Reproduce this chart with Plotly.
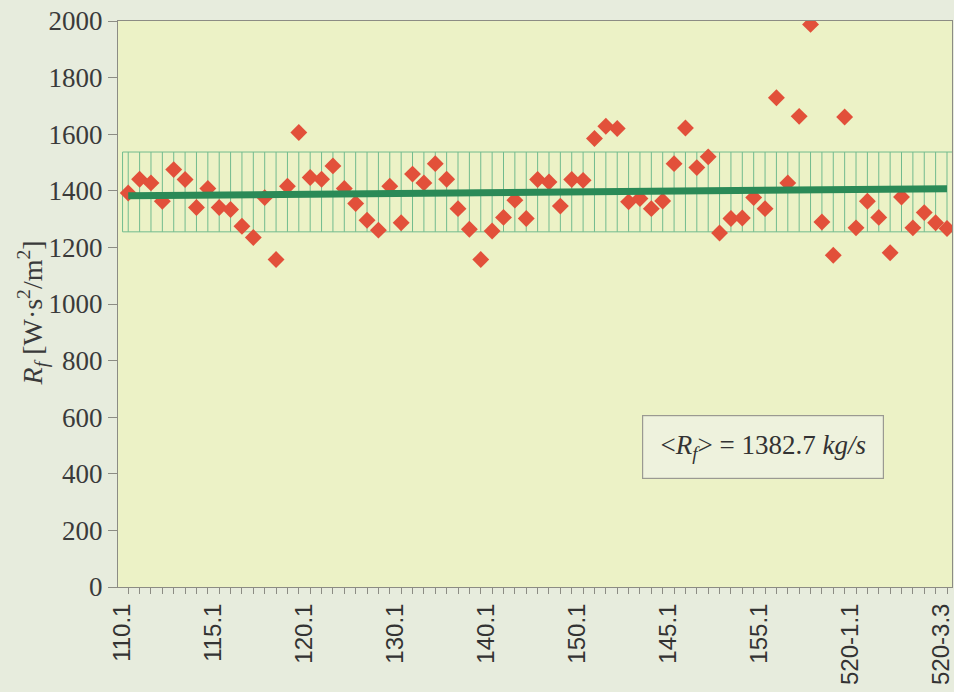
import plotly.graph_objects as go

# Measured friction resistance per sample
sample_index = list(range(73))
rf_values = [1392, 1441, 1428, 1363, 1475, 1440, 1341, 1408, 1341, 1334,
             1275, 1235, 1376, 1157, 1416, 1606, 1447, 1441, 1488, 1408,
             1355, 1296, 1261, 1416, 1287, 1459, 1428, 1496, 1441, 1337,
             1264, 1157, 1258, 1306, 1367, 1302, 1440, 1431, 1346, 1440,
             1437, 1585, 1628, 1620, 1361, 1373, 1337, 1364, 1496, 1622,
             1482, 1520, 1251, 1302, 1304, 1376, 1337, 1729, 1428, 1663,
             1988, 1290, 1172, 1661, 1269, 1363, 1306, 1181, 1378, 1269,
             1323, 1287, 1267]

# Category tick labels (every 8th sample)
tick_positions = [0, 8, 16, 24, 32, 40, 48, 56, 64, 72]
tick_labels = ["110.1", "115.1", "120.1", "130.1", "140.1", "150.1",
               "145.1", "155.1", "520-1.1", "520-3.3"]

# Tolerance band and linear trend
band_low = 1255
band_high = 1537
trend_x = [0, 72]
trend_y = [1382.7, 1407.0]
mean_rf = 1382.7

y_ticks = [0, 200, 400, 600, 800, 1000, 1200, 1400, 1600, 1800, 2000]

BAND_GREEN = "#72bb8e"
LINE_GREEN = "#2b8a57"
MARKER_RED = "#e2503a"
AXIS_GRAY = "#8c8c84"
TEXT_DARK = "#333333"
SERIF = "Liberation Serif, DejaVu Serif, serif"
SANS = "Liberation Sans, Arial, sans-serif"

fig = go.Figure()

# Band outline
x_left = sample_index[0] - 0.5
x_right = sample_index[-1] + 0.5
fig.add_trace(go.Scatter(
    x=[x_left, x_right, x_right, x_left, x_left],
    y=[band_low, band_low, band_high, band_high, band_low],
    mode="lines", line=dict(color=BAND_GREEN, width=1),
    hoverinfo="skip", showlegend=False,
))

# Vertical hatching inside the band, one stroke per sample
hx, hy = [], []
for i in sample_index:
    hx += [i, i, None]
    hy += [band_low, band_high, None]
fig.add_trace(go.Scatter(
    x=hx, y=hy, mode="lines", line=dict(color=BAND_GREEN, width=1),
    hoverinfo="skip", showlegend=False,
))

# Sample values
fig.add_trace(go.Scatter(
    x=sample_index, y=rf_values, mode="markers",
    marker=dict(symbol="diamond", size=13, color=MARKER_RED,
                line=dict(width=0)),
    showlegend=False,
))

# Trend line
fig.add_trace(go.Scatter(
    x=trend_x, y=trend_y, mode="lines",
    line=dict(color=LINE_GREEN, width=7),
    showlegend=False,
))

# Mean value box
fig.add_annotation(
    x=0.773, y=0.247, xref="paper", yref="paper",
    xanchor="center", yanchor="middle",
    text=f"&lt;<i>R</i><sub><i>f</i></sub>&gt; = {mean_rf} <i>kg/s</i>",
    showarrow=False,
    font=dict(family=SERIF, size=27, color=TEXT_DARK),
    bgcolor="#eef2dd", bordercolor="#9a9a92", borderwidth=1.2,
    borderpad=6, width=228, height=50,
)

# Y-axis title
fig.add_annotation(
    x=-0.102, y=0.485, xref="paper", yref="paper",
    xanchor="center", yanchor="middle", textangle=-90,
    text="<i>R</i><sub><i>f</i></sub> [W·s<sup>2</sup>/m<sup>2</sup>]",
    showarrow=False,
    font=dict(family=SERIF, size=28, color="#3a3a3a"),
)

fig.update_layout(
    width=954, height=692,
    margin=dict(l=118, r=2, t=21, b=105, autoexpand=False),
    paper_bgcolor="#e7ecdd",
    plot_bgcolor="#ecf2c6",
    showlegend=False,
    xaxis=dict(
        range=[-0.9, 72.44], automargin=False,
        tickmode="array", tickvals=tick_positions, ticktext=tick_labels,
        tickangle=-90, ticklabeloverflow="allow", ticklabelshift=-6,
        ticks="outside", ticklen=6, tickwidth=1, tickcolor=AXIS_GRAY,
        minor=dict(tickmode="linear", tick0=0, dtick=1, ticks="outside",
                   ticklen=6, tickwidth=1, tickcolor=AXIS_GRAY),
        showline=True, linecolor=AXIS_GRAY, linewidth=1, mirror=True,
        showgrid=False, zeroline=False,
        tickfont=dict(family=SANS, size=24, color=TEXT_DARK),
    ),
    xaxis2=dict(
        range=[-0.9, 72.44], overlaying="x", anchor="y", side="bottom",
        automargin=False,
        tickmode="array", tickvals=sample_index, showticklabels=False,
        ticks="inside", ticklen=6, tickwidth=1, tickcolor=AXIS_GRAY,
        showline=False, showgrid=False, zeroline=False,
    ),
    yaxis=dict(
        range=[0, 2000], automargin=False,
        tickmode="array", tickvals=y_ticks,
        ticks="outside", ticklen=9, tickwidth=1, tickcolor=AXIS_GRAY,
        showline=True, linecolor=AXIS_GRAY, linewidth=1, mirror=True,
        showgrid=False, zeroline=False,
        tickfont=dict(family=SERIF, size=27, color="#3a3a3a"),
    ),
)

fig.write_html("out.html")
